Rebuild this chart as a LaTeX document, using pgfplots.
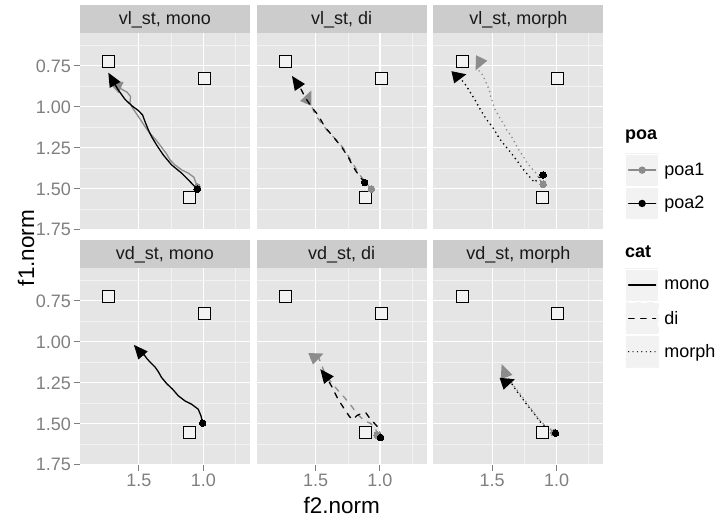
\documentclass[border=0pt]{standalone}
\usepackage{fontspec}
\setmainfont{Liberation Sans}
\usepackage{pgfplots}
\pgfplotsset{compat=1.18}
\usetikzlibrary{arrows.meta}

\definecolor{panelbg}{HTML}{E5E5E5}
\definecolor{gridminor}{HTML}{F2F2F2}
\definecolor{stripbg}{HTML}{CCCCCC}
\definecolor{tickgray}{HTML}{7F7F7F}
\definecolor{poagray}{HTML}{8C8C8C}
\definecolor{keybg}{HTML}{F2F2F2}
\definecolor{sqfill}{HTML}{F2F2F2}

\newcommand\ticksize{\fontsize{18}{20}\selectfont}
\newcommand\titlesize{\fontsize{22.5}{26}\selectfont}

\tikzset{
  tip/.style={-{Triangle[length=14pt,width=12pt]}},
  poaone/.style={color=poagray, line width=1.3pt, line cap=round},
  poatwo/.style={color=black, line width=1.3pt, line cap=round},
  catdi/.style={dash pattern=on 5.5pt off 6.5pt},
  catmorph/.style={line width=1.8pt, dash pattern=on 0pt off 4.7pt},
}

\pgfplotsset{
  panel/.style={
    scale only axis, width=170pt, height=197pt, anchor=south west,
    x dir=reverse, y dir=reverse,
    xmin=0.637, xmax=1.958, ymin=0.549, ymax=1.751,
    axis background/.style={fill=panelbg},
    axis line style={draw=none},
    grid=both,
    major grid style={white, line width=1.1pt},
    minor grid style={gridminor, line width=0.55pt},
    xtick={1.0,1.5}, minor xtick={0.75,1.25},
    ytick={0.75,1,1.25,1.5,1.75}, minor ytick={0.625,0.875,1.125,1.375,1.625},
    minor tick length=0pt,
    tick align=outside, major tick length=6pt,
    tick style={tickgray, line width=1pt},
    xticklabels={}, yticklabels={},
    xtick pos=bottom, ytick pos=left,
    tick label style={font=\ticksize, text=tickgray},
    xticklabel style={inner sep=3pt},
    yticklabel style={inner sep=3pt},
  },
  noxticks/.style={xtick style={/pgfplots/major tick length=0pt}},
  noyticks/.style={ytick style={/pgfplots/major tick length=0pt}},
  xlabs/.style={xticklabels={1.0,1.5}},
  ylabs/.style={yticklabels={0.75,1.00,1.25,1.50,1.75}},
  traj/.style={tip, mark=*, mark indices={1}, mark size=3.3pt, mark options={solid, line width=0pt}},
  vowels/.style={only marks, mark=square*, mark size=6pt,
    mark options={draw=black, fill=sqfill, line width=1pt, solid}},
  keystyle/.style={
    legend style={anchor=north west, draw=none, fill=none, inner sep=0pt,
      outer sep=0pt, row sep=0pt, font=\ticksize, cells={anchor=west},
      /tikz/every odd column/.append style={column sep=3pt}},
  },
}

\begin{document}
\begin{tikzpicture}
\useasboundingbox (0,0) rectangle (715pt,518pt);

% facet strips
\fill[stripbg] (80pt,485pt) rectangle (250pt,513pt);
\fill[stripbg] (256.7pt,485pt) rectangle (426.7pt,513pt);
\fill[stripbg] (433.3pt,485pt) rectangle (603.3pt,513pt);
\fill[stripbg] (80pt,250pt) rectangle (250pt,278pt);
\fill[stripbg] (256.7pt,250pt) rectangle (426.7pt,278pt);
\fill[stripbg] (433.3pt,250pt) rectangle (603.3pt,278pt);
\node[anchor=base, font=\ticksize, text=black!90] at (165pt,493pt) {vl\_st, mono};
\node[anchor=base, font=\ticksize, text=black!90] at (341.7pt,493pt) {vl\_st, di};
\node[anchor=base, font=\ticksize, text=black!90] at (518.3pt,493pt) {vl\_st, morph};
\node[anchor=base, font=\ticksize, text=black!90] at (165pt,258pt) {vd\_st, mono};
\node[anchor=base, font=\ticksize, text=black!90] at (341.7pt,258pt) {vd\_st, di};
\node[anchor=base, font=\ticksize, text=black!90] at (518.3pt,258pt) {vd\_st, morph};

% vl_st, mono
\begin{axis}[panel, ylabs, noxticks, at={(80pt,288pt)}]
\addplot[vowels, forget plot] coordinates {(1.733,0.724) (0.990,0.829) (1.110,1.550)};
\addplot[traj, poaone, forget plot] coordinates {
 (1.045,1.490) (1.073,1.429) (1.117,1.404) (1.168,1.384) (1.220,1.354) (1.259,1.323)
 (1.285,1.287) (1.324,1.246) (1.368,1.201) (1.415,1.161) (1.453,1.120) (1.487,1.079)
 (1.518,1.043) (1.549,1.008) (1.570,0.974) (1.565,0.937) (1.591,0.911) (1.648,0.886)
 (1.699,0.860) (1.738,0.846)};
\addplot[traj, poatwo, forget plot] coordinates {
 (1.047,1.502) (1.104,1.455) (1.168,1.404) (1.246,1.354) (1.311,1.293) (1.363,1.232)
 (1.402,1.181) (1.427,1.140) (1.453,1.089) (1.472,1.049) (1.505,1.022) (1.557,0.992)
 (1.609,0.953) (1.661,0.896) (1.699,0.846) (1.738,0.791)};
\end{axis}

% vl_st, di
\begin{axis}[panel, noxticks, noyticks, at={(256.7pt,288pt)}]
\addplot[vowels, forget plot] coordinates {(1.733,0.724) (0.990,0.829) (1.110,1.550)};
\addplot[traj, poaone, catdi, forget plot] coordinates {
 (1.067,1.502) (1.106,1.465) (1.158,1.415) (1.196,1.364) (1.236,1.313) (1.275,1.262)
 (1.326,1.211) (1.391,1.161) (1.456,1.100) (1.508,1.039) (1.547,0.967) (1.554,0.937)
 (1.534,0.900)};
\addplot[traj, poatwo, catdi, forget plot] coordinates {
 (1.119,1.461) (1.158,1.425) (1.210,1.364) (1.249,1.303) (1.301,1.242) (1.365,1.181)
 (1.430,1.120) (1.482,1.049) (1.534,0.998) (1.585,0.937) (1.624,0.876) (1.663,0.835)
 (1.684,0.811)};
\end{axis}

% vl_st, morph
\begin{axis}[panel, noxticks, noyticks, at={(433.3pt,288pt)}, keystyle,
  legend style={at={(axis description cs:1.1276,0.3883)}},
  legend image code/.code={
    \fill[keybg] (0pt,-16pt) rectangle (33pt,16pt);
    \draw[white, line width=1pt] (0pt,-16pt) rectangle (33pt,16pt);
    \draw[mark repeat=2, mark phase=2, #1] plot coordinates {(3pt,0pt) (16.5pt,0pt) (30pt,0pt)};
  }]
\addplot[vowels, forget plot] coordinates {(1.733,0.724) (0.990,0.829) (1.110,1.550)};
\addplot[traj, poaone, catmorph, forget plot] coordinates {
 (1.104,1.472) (1.130,1.445) (1.155,1.409) (1.194,1.374) (1.228,1.344) (1.254,1.309)
 (1.280,1.278) (1.306,1.246) (1.332,1.207) (1.358,1.171) (1.389,1.140) (1.409,1.106)
 (1.435,1.075) (1.461,1.039) (1.484,1.008) (1.497,0.972) (1.513,0.933) (1.523,0.896)
 (1.544,0.860) (1.565,0.821) (1.591,0.785) (1.625,0.770) (1.630,0.778)};
\addplot[traj, poatwo, catmorph, forget plot] coordinates {
 (1.104,1.415) (1.137,1.431) (1.171,1.461) (1.207,1.429) (1.241,1.398) (1.272,1.368)
 (1.303,1.333) (1.332,1.303) (1.363,1.272) (1.394,1.242) (1.427,1.211) (1.453,1.181)
 (1.479,1.146) (1.505,1.116) (1.536,1.085) (1.562,1.055) (1.591,1.018) (1.617,0.982)
 (1.640,0.949) (1.666,0.917) (1.692,0.884) (1.718,0.852) (1.746,0.831) (1.764,0.812)
 (1.700,0.801)};
\addlegendimage{poaone, mark=*, mark size=3pt, mark options={solid}}
\addlegendentry{poa1}
\addlegendimage{poatwo, mark=*, mark size=3pt, mark options={solid}}
\addlegendentry{poa2}
\end{axis}

% vd_st, mono
\begin{axis}[panel, ylabs, xlabs, at={(80pt,53pt)}]
\addplot[vowels, forget plot] coordinates {(1.733,0.724) (0.990,0.829) (1.110,1.550)};
\addplot[traj, poatwo, forget plot] coordinates {
 (1.005,1.496) (1.018,1.451) (1.039,1.411) (1.091,1.380) (1.142,1.360) (1.194,1.329)
 (1.238,1.289) (1.285,1.254) (1.324,1.217) (1.350,1.181) (1.376,1.152) (1.415,1.122)
 (1.440,1.100) (1.466,1.071) (1.505,1.049) (1.539,1.018)};
\end{axis}

% vd_st, di
\begin{axis}[panel, xlabs, noyticks, at={(256.7pt,53pt)}]
\addplot[vowels, forget plot] coordinates {(1.733,0.724) (0.990,0.829) (1.110,1.550)};
\addplot[traj, poaone, catdi, forget plot] coordinates {
 (1.023,1.569) (1.034,1.527) (1.075,1.496) (1.119,1.482) (1.171,1.445) (1.223,1.390)
 (1.275,1.340) (1.334,1.289) (1.391,1.234) (1.438,1.173) (1.464,1.120) (1.482,1.085)
 (1.438,1.071)};
\addplot[traj, poatwo, catdi, forget plot] coordinates {
 (0.995,1.583) (1.008,1.527) (1.049,1.492) (1.088,1.457) (1.111,1.431) (1.145,1.437)
 (1.179,1.449) (1.210,1.474) (1.236,1.457) (1.275,1.411) (1.326,1.350) (1.378,1.268)
 (1.417,1.213) (1.464,1.166)};
\end{axis}

% vd_st, morph
\begin{axis}[panel, xlabs, noyticks, at={(433.3pt,53pt)}, keystyle,
  legend style={at={(axis description cs:1.1276,0.9975)}},
  legend image code/.code={
    \fill[keybg] (0pt,-16pt) rectangle (33pt,16pt);
    \draw[white, line width=1pt] (0pt,-16pt) rectangle (33pt,16pt);
    \draw[#1] (3pt,0pt) -- (30pt,0pt);
  }]
\addplot[vowels, forget plot] coordinates {(1.733,0.724) (0.990,0.829) (1.110,1.550)};
\addplot[traj, poaone, catmorph, forget plot] coordinates {
 (1.021,1.553) (1.065,1.518) (1.117,1.492) (1.168,1.441) (1.220,1.384) (1.272,1.329)
 (1.324,1.278) (1.368,1.228) (1.402,1.187) (1.427,1.135)};
\addplot[traj, poatwo, catmorph, forget plot] coordinates {
 (1.008,1.557) (1.047,1.537) (1.085,1.518) (1.130,1.486) (1.181,1.431) (1.233,1.380)
 (1.272,1.339) (1.311,1.299) (1.337,1.268) (1.362,1.238) (1.324,1.228)};
\addlegendimage{poatwo}
\addlegendentry{mono}
\addlegendimage{poatwo, catdi}
\addlegendentry{di}
\addlegendimage{poatwo, line width=1.3pt, dash pattern=on 0pt off 4.4pt}
\addlegendentry{morph}
\end{axis}

% axis titles and legend titles
\node[font=\titlesize] at (341.7pt,13pt) {f2.norm};
\node[font=\titlesize, rotate=90] at (26pt,270pt) {f1.norm};
\node[anchor=west, font=\ticksize\bfseries, inner sep=0pt] at (625pt,381pt) {poa};
\node[anchor=west, font=\ticksize\bfseries, inner sep=0pt] at (625pt,266pt) {cat};
\end{tikzpicture}
\end{document}
